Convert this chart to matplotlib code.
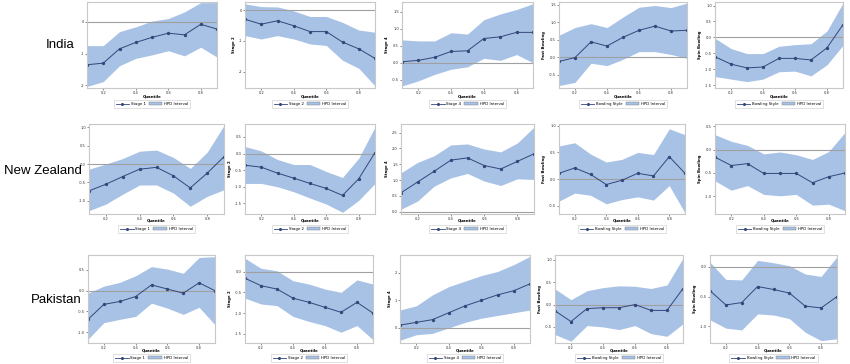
import matplotlib.pyplot as plt
from matplotlib.lines import Line2D
from matplotlib.patches import Patch

# quantiles on the x axis
quantiles = [0.1, 0.2, 0.3, 0.4, 0.5, 0.6, 0.7, 0.8, 0.9]
countries = ["India", "New Zealand", "Pakistan"]
ylabels = ["Stage 1", "Stage 2", "Stage 4", "Fast Bowling", "Spin Bowling"]
legend_names = ["Stage 1", "Stage 2", "Stage 4", "Bowling Style", "Bowling Style"]
xticks = [0.2, 0.4, 0.6, 0.8]

# ---- India ----
ind_s1_mid = [-1.35, -1.30, -0.85, -0.65, -0.49, -0.36, -0.41, -0.08, -0.23]
ind_s1_hi = [-0.75, -0.75, -0.31, -0.16, 0.02, 0.10, 0.31, 0.60, 0.60]
ind_s1_lo = [-2.03, -1.88, -1.38, -1.15, -1.04, -0.91, -1.07, -0.80, -1.11]

ind_s2_mid = [-0.30, -0.46, -0.35, -0.51, -0.70, -0.70, -1.04, -1.26, -1.57]
ind_s2_hi = [0.20, 0.11, 0.10, -0.03, -0.21, -0.21, -0.40, -0.65, -0.72]
ind_s2_lo = [-0.83, -0.94, -0.83, -0.94, -1.10, -1.15, -1.63, -1.89, -2.46]

ind_s4_mid = [0.03, 0.07, 0.16, 0.33, 0.35, 0.71, 0.76, 0.89, 0.89]
ind_s4_hi = [0.67, 0.64, 0.64, 0.88, 0.84, 1.26, 1.43, 1.56, 1.73]
ind_s4_lo = [-0.68, -0.53, -0.34, -0.19, -0.12, 0.13, 0.07, 0.24, 0.00]

ind_fast_mid = [-0.12, -0.01, 0.44, 0.32, 0.57, 0.77, 0.89, 0.75, 0.77]
ind_fast_hi = [0.63, 0.85, 0.96, 0.85, 1.15, 1.43, 1.48, 1.42, 1.55]
ind_fast_lo = [-0.81, -0.72, -0.17, -0.24, -0.06, 0.16, 0.16, 0.08, -0.03]

ind_spin_mid = [-0.61, -0.84, -0.96, -0.93, -0.66, -0.66, -0.71, -0.33, 0.40]
ind_spin_hi = [-0.03, -0.35, -0.51, -0.51, -0.28, -0.23, -0.20, 0.20, 1.08]
ind_spin_lo = [-1.23, -1.31, -1.39, -1.31, -1.08, -1.06, -1.21, -0.86, -0.25]

# ---- New Zealand ----
nz_s1_mid = [-0.73, -0.55, -0.34, -0.14, -0.09, -0.32, -0.65, -0.25, 0.20]
nz_s1_hi = [-0.14, 0.00, 0.15, 0.35, 0.38, 0.18, -0.12, 0.32, 1.05]
nz_s1_lo = [-1.27, -1.09, -0.82, -0.57, -0.57, -0.79, -1.15, -0.88, -0.70]

nz_s2_mid = [-0.35, -0.41, -0.59, -0.74, -0.90, -1.05, -1.26, -0.76, 0.03]
nz_s2_hi = [0.21, 0.08, -0.18, -0.33, -0.33, -0.54, -0.72, -0.14, 0.80]
nz_s2_lo = [-0.90, -0.90, -1.00, -1.15, -1.34, -1.52, -1.77, -1.41, -0.90]

nz_s4_mid = [0.60, 0.94, 1.28, 1.63, 1.70, 1.46, 1.35, 1.59, 1.83]
nz_s4_hi = [1.23, 1.56, 1.77, 2.11, 2.14, 1.98, 1.89, 2.17, 2.67]
nz_s4_lo = [0.08, 0.34, 0.81, 1.07, 1.21, 0.97, 0.83, 1.04, 1.02]

nz_fast_mid = [0.11, 0.21, 0.09, -0.10, -0.02, 0.11, 0.06, 0.42, 0.11]
nz_fast_hi = [0.62, 0.68, 0.47, 0.32, 0.37, 0.50, 0.46, 0.94, 0.83]
nz_fast_lo = [-0.41, -0.26, -0.30, -0.46, -0.38, -0.33, -0.39, -0.12, -0.63]

nz_spin_mid = [-0.16, -0.34, -0.30, -0.51, -0.51, -0.51, -0.71, -0.58, -0.50]
nz_spin_hi = [0.32, 0.18, 0.09, -0.09, -0.05, -0.11, -0.21, -0.04, 0.37]
nz_spin_lo = [-0.67, -0.87, -0.77, -0.96, -0.99, -0.96, -1.19, -1.17, -1.31]

# ---- Pakistan ----
pak_s1_mid = [-0.69, -0.33, -0.26, -0.14, 0.14, 0.04, -0.06, 0.19, 0.00]
pak_s1_hi = [-0.06, 0.11, 0.20, 0.36, 0.58, 0.52, 0.42, 0.80, 0.82]
pak_s1_lo = [-1.17, -0.77, -0.69, -0.62, -0.30, -0.42, -0.57, -0.40, -0.82]

pak_s2_mid = [-0.16, -0.34, -0.42, -0.64, -0.74, -0.86, -0.98, -0.74, -1.00]
pak_s2_hi = [0.32, 0.08, 0.02, -0.22, -0.30, -0.42, -0.50, -0.20, -0.30]
pak_s2_lo = [-0.64, -0.78, -0.82, -1.08, -1.20, -1.30, -1.46, -1.30, -1.64]

pak_s4_mid = [0.10, 0.20, 0.30, 0.55, 0.80, 1.00, 1.20, 1.35, 1.60]
pak_s4_hi = [0.65, 0.80, 1.20, 1.50, 1.70, 1.90, 2.05, 2.30, 2.60]
pak_s4_lo = [-0.45, -0.25, -0.20, 0.00, 0.20, 0.35, 0.45, 0.55, 0.65]

pak_fast_mid = [-0.14, -0.38, -0.09, -0.07, -0.07, 0.00, -0.13, -0.13, 0.36]
pak_fast_hi = [0.35, 0.11, 0.31, 0.38, 0.42, 0.41, 0.36, 0.44, 1.04]
pak_fast_lo = [-0.67, -0.82, -0.47, -0.50, -0.56, -0.47, -0.65, -0.71, -0.43]

pak_spin_mid = [-0.40, -0.64, -0.60, -0.33, -0.38, -0.44, -0.66, -0.69, -0.50]
pak_spin_hi = [0.08, -0.21, -0.22, 0.11, 0.07, 0.02, -0.12, -0.16, 0.17]
pak_spin_lo = [-0.89, -1.03, -1.06, -0.79, -0.81, -0.87, -1.10, -1.24, -1.21]

# y tick labels per panel
yticks = [
    [[0, -1, -2], [0, -1, -2], [1.5, 1.0, 0.5, 0.0, -0.5], [1.5, 1.0, 0.5, 0.0, -0.5],
     [1.0, 0.5, 0.0, -0.5, -1.0, -1.5]],
    [[1.0, 0.5, 0.0, -0.5, -1.0], [0.5, 0.0, -0.5, -1.0, -1.5], [2.5, 2.0, 1.5, 1.0, 0.5, 0.0],
     [1.0, 0.5, 0.0, -0.5], [0.5, 0.0, -0.5, -1.0]],
    [[0.5, 0.0, -0.5, -1.0], [0.0, -0.5, -1.0, -1.5], [2, 1, 0],
     [1.0, 0.5, 0.0, -0.5], [0.0, -0.5, -1.0]],
]

series = [
    [(ind_s1_mid, ind_s1_lo, ind_s1_hi), (ind_s2_mid, ind_s2_lo, ind_s2_hi),
     (ind_s4_mid, ind_s4_lo, ind_s4_hi), (ind_fast_mid, ind_fast_lo, ind_fast_hi),
     (ind_spin_mid, ind_spin_lo, ind_spin_hi)],
    [(nz_s1_mid, nz_s1_lo, nz_s1_hi), (nz_s2_mid, nz_s2_lo, nz_s2_hi),
     (nz_s4_mid, nz_s4_lo, nz_s4_hi), (nz_fast_mid, nz_fast_lo, nz_fast_hi),
     (nz_spin_mid, nz_spin_lo, nz_spin_hi)],
    [(pak_s1_mid, pak_s1_lo, pak_s1_hi), (pak_s2_mid, pak_s2_lo, pak_s2_hi),
     (pak_s4_mid, pak_s4_lo, pak_s4_hi), (pak_fast_mid, pak_fast_lo, pak_fast_hi),
     (pak_spin_mid, pak_spin_lo, pak_spin_hi)],
]

# layout (pixels): axes boxes and y ranges
W, H = 850, 364
boxes = [
    [(87, 2, 217, 88), (245, 2, 375, 88), (402, 2, 533, 88), (559, 2, 687, 88), (715, 2, 843, 88)],
    [(89, 124, 224, 214), (245, 124, 375, 214), (401, 124, 534, 214), (559, 124, 685, 214), (715, 124, 845, 214)],
    [(88, 255, 215, 343), (245, 255, 373, 343), (400, 255, 530, 343), (555, 255, 683, 343), (710, 255, 837, 343)],
]
ylims = [
    [(-2.08, 0.62), (-2.53, 0.26), (-0.74, 1.78), (-0.88, 1.58), (-1.59, 1.11)],
    [(-1.36, 1.09), (-1.82, 0.89), (-0.07, 2.77), (-0.65, 1.03), (-1.38, 0.55)],
    [(-1.26, 0.86), (-1.72, 0.40), (-0.55, 2.65), (-0.86, 1.11), (-1.28, 0.20)],
]
row_label_xy = [(60, 45), (43, 171), (56, 300)]
legend_y = [104, 229, 358]
quant_y = [97, 220, 351]

band_color = "#a8c2e6"
line_color = "#34467a"
frame_color = "#c8c8c8"

fig = plt.figure(figsize=(W / 100, H / 100), dpi=100)
fig.patch.set_facecolor("white")

for r in range(3):
    lx, ly = row_label_xy[r]
    fig.text(lx / W, 1 - ly / H, countries[r], ha="center", va="center",
             fontsize=9.5, family="Liberation Sans")
    for c in range(5):
        x0, y0, x1, y1 = boxes[r][c]
        ax = fig.add_axes([x0 / W, 1 - y1 / H, (x1 - x0) / W, (y1 - y0) / H])
        mid, lo, hi = series[r][c]
        ax.fill_between(quantiles, lo, hi, color=band_color, lw=0)
        ax.axhline(0, color="#a0a0a0", lw=0.8)
        ax.plot(quantiles, mid, color=line_color, lw=0.7, marker="o", ms=1.4)
        ax.set_xlim(0.1, 0.9)
        ax.set_ylim(*ylims[r][c])
        ax.set_xticks(xticks)
        ax.set_xticklabels([f"{t:.1f}" for t in xticks])
        ax.set_yticks(yticks[r][c])
        ax.set_yticklabels([str(t) for t in yticks[r][c]])
        ax.tick_params(labelsize=2.6, length=1.2, width=0.4, pad=1, colors="#333333")
        # first column is cropped in the source: its y label is not shown
        if c > 0:
            ax.set_ylabel(ylabels[c], fontsize=2.8, labelpad=2, fontweight="bold")
        for s in ax.spines.values():
            s.set_color(frame_color)
            s.set_linewidth(0.8)
        cx = (x0 + x1) / 2 / W
        fig.text(cx, 1 - quant_y[r] / H, "Quantile", ha="center", va="center",
                 fontsize=2.8, fontweight="bold")
        handles = [Line2D([], [], color=line_color, lw=0.6, marker="o", ms=1.2),
                   Patch(facecolor=band_color, edgecolor="#777777", lw=0.3)]
        leg = ax.legend(handles, [legend_names[c], "HPD Interval"], ncol=2,
                        loc="center", bbox_to_anchor=(cx, 1 - legend_y[r] / H),
                        bbox_transform=fig.transFigure, fontsize=2.8,
                        frameon=True, fancybox=False, handlelength=3.5,
                        handleheight=0.8, columnspacing=0.8, handletextpad=0.4,
                        borderpad=0.5)
        leg.get_frame().set_edgecolor("#bbbbbb")
        leg.get_frame().set_linewidth(0.4)

fig.savefig("out.png", dpi=100)
